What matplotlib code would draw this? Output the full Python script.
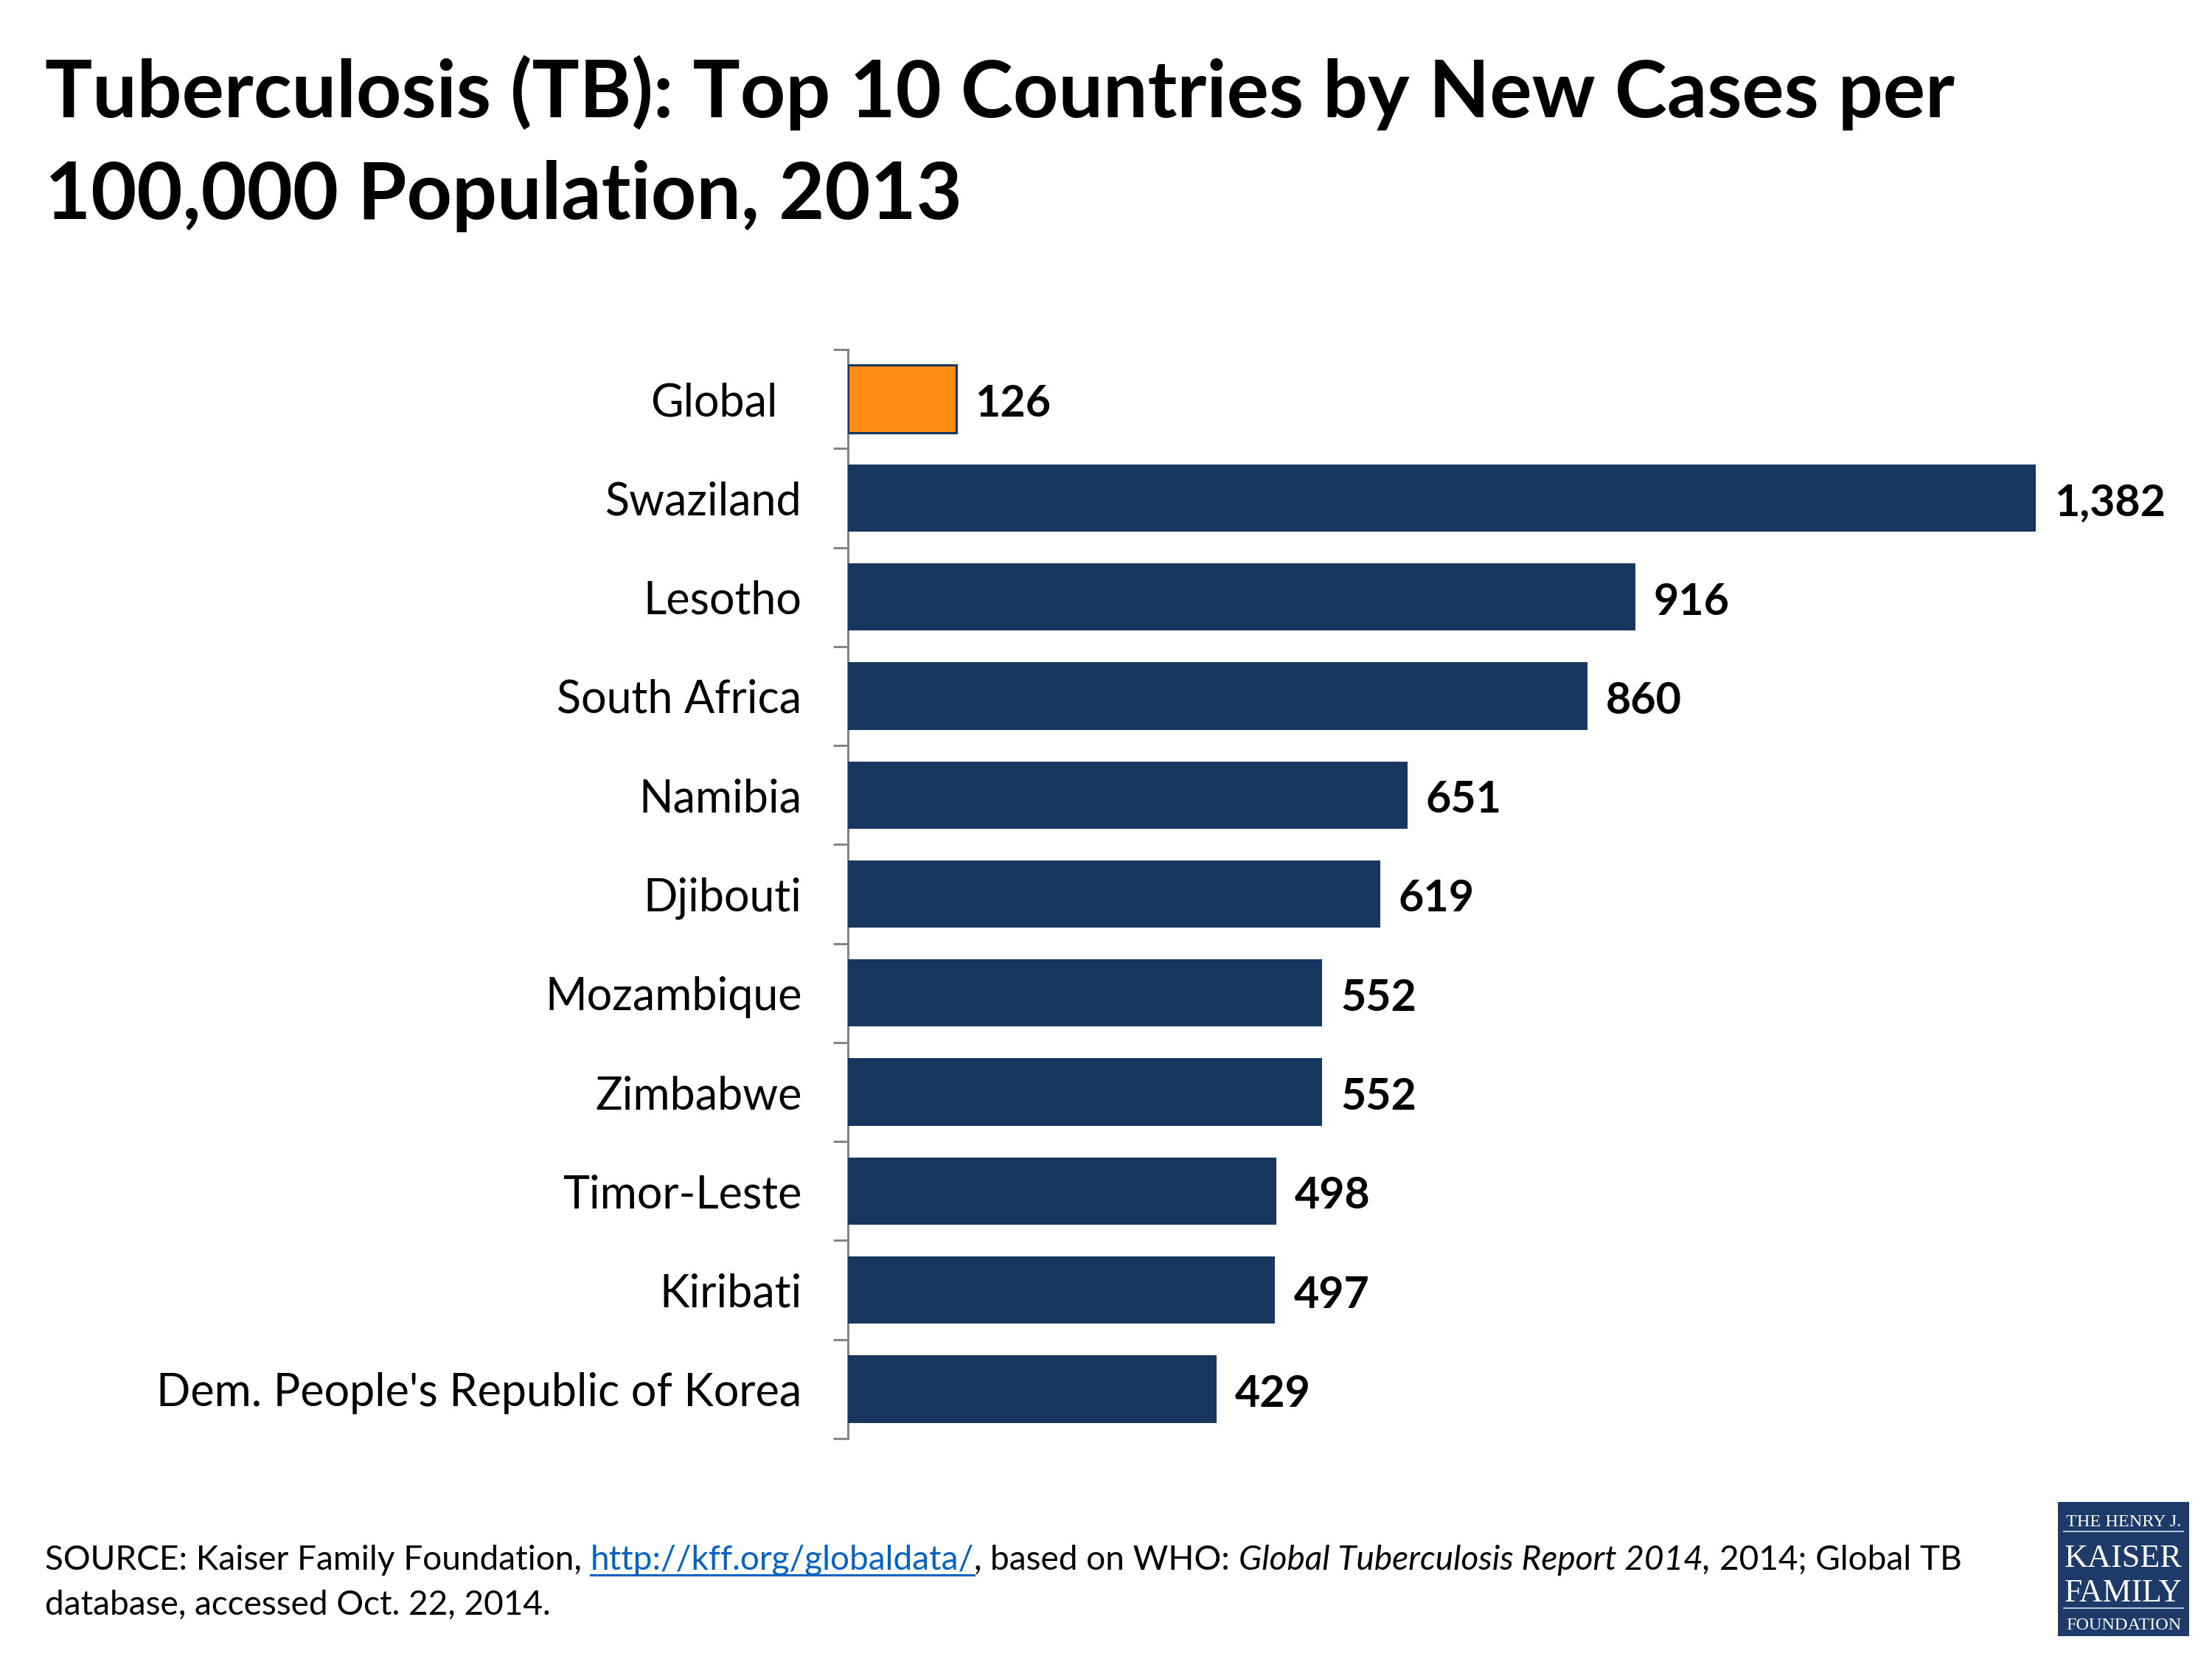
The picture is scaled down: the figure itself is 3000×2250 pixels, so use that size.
import matplotlib
matplotlib.use("Agg")
import matplotlib.pyplot as plt
from matplotlib.ticker import FixedLocator
from matplotlib.transforms import ScaledTranslation
from matplotlib.patches import Rectangle
from matplotlib.lines import Line2D

# ---------------- data ----------------
categories = ["Global", "Swaziland", "Lesotho", "South Africa", "Namibia", "Djibouti",
              "Mozambique", "Zimbabwe", "Timor-Leste", "Kiribati",
              "Dem. People's Republic of Korea"]
values = [126, 1382, 916, 860, 651, 619, 552, 552, 498, 497, 429]
highlight = ["Global"]

title_lines = ["Tuberculosis (TB): Top 10 Countries by New Cases per",
               "100,000 Population, 2013"]

W, H, DPI = 3000, 2250, 100
NAVY = "#17375E"
ORANGE = "#FF8C14"
GRAY = "#868686"
SANS = ["Lato", "DejaVu Sans"]

fig = plt.figure(figsize=(W / DPI, H / DPI), dpi=DPI)
fig.patch.set_facecolor("white")
renderer = fig.canvas.get_renderer()


def text_width(s, **kw):
    t = fig.text(0, 0, s, **kw)
    w = t.get_window_extent(renderer).width
    t.remove()
    return w


def fit_size(s, target_px, base=40, **kw):
    w = text_width(s, fontsize=base, **kw)
    return base * target_px / w


# ---------------- axes ----------------
ax_left, ax_right = 1150, 2898.6
ax_top, ax_bot = 474, 1951
ax = fig.add_axes([ax_left / W, 1 - ax_bot / H, (ax_right - ax_left) / W, (ax_bot - ax_top) / H])

n = len(categories)
ypos = list(range(n))
colors = [ORANGE if c in highlight else NAVY for c in categories]
edges = [NAVY for c in categories]
lws = [2.2 if c in highlight else 0 for c in categories]
ax.barh(ypos, values, height=0.68, color=colors, edgecolor=edges, linewidth=lws, zorder=3)

ax.set_xlim(0, 1500)
ax.set_ylim(n - 0.5, -0.5)
ax.set_xticks([])
for s in ["top", "right", "bottom"]:
    ax.spines[s].set_visible(False)
ax.spines["left"].set_color(GRAY)
ax.spines["left"].set_linewidth(2.2)

label_size = fit_size(categories[-1], 876, family=SANS)
value_size = fit_size("1,382", 151, family=SANS, fontweight="bold")

ax.set_yticks(ypos)
ax.set_yticklabels(categories, fontsize=label_size, family=SANS, color="black")
ax.tick_params(axis="y", which="major", length=0, pad=45)
ax.yaxis.set_minor_locator(FixedLocator([i - 0.5 for i in range(n + 1)]))
ax.tick_params(axis="y", which="minor", length=14.4, width=2.2, color=GRAY)

# "Global" label sits a little further left in the reference
for lab in ax.get_yticklabels():
    if lab.get_text() == "Global":
        lab.set_transform(lab.get_transform() + ScaledTranslation(-0.33, 0, fig.dpi_scale_trans))

for y, v in zip(ypos, values):
    ax.annotate(f"{v:,}", xy=(v, y), xytext=(18, -5), textcoords="offset points",
                ha="left", va="center", fontsize=value_size, fontweight="bold",
                family=SANS, color="black")

# ---------------- title ----------------
title_size = fit_size(title_lines[0], 2589, family=SANS, fontweight="bold")
fig.text(61 / W, 1 - 159 / H, title_lines[0], fontsize=title_size, fontweight="bold",
         family=SANS, ha="left", va="baseline")
fig.text(61 / W, 1 - 297 / H, title_lines[1], fontsize=title_size, fontweight="bold",
         family=SANS, ha="left", va="baseline")

# ---------------- source note ----------------
segments = [
    ("SOURCE: Kaiser Family Foundation,", "normal", False),
    ("http://kff.org/globaldata/", "link", True),
    (",", "normal", False),
    ("based on WHO:", "normal", True),
    ("Global Tuberculosis Report 2014,", "italic", True),
    ("2014; Global TB", "normal", True),
]


def seg_kw(style, size):
    kw = dict(fontsize=size, family=SANS, ha="left", va="baseline", color="black")
    if style == "link":
        kw["color"] = "#0563C1"
    if style == "italic":
        kw["fontstyle"] = "italic"
    return kw


def layout_width(size):
    sw = text_width("a a", fontsize=size, family=SANS) - text_width("aa", fontsize=size, family=SANS)
    tot = 0.0
    for txt, style, sp in segments:
        if sp:
            tot += sw
        tot += text_width(txt, **seg_kw(style, size))
    return tot, sw


src_size = 30.0
for _ in range(3):
    tot, _sw = layout_width(src_size)
    src_size *= 2600 / tot
tot, space_w = layout_width(src_size)

x = 61.0
y1 = H - 2129
for txt, style, sp in segments:
    if sp:
        x += space_w
    t = fig.text(x / W, y1 / H, txt, **seg_kw(style, src_size))
    w = t.get_window_extent(renderer).width
    if style == "link":
        fig.add_artist(Line2D([x / W, (x + w) / W], [(y1 - 7) / H, (y1 - 7) / H],
                              color="#0563C1", lw=2.2, transform=fig.transFigure))
    x += w
fig.text(61 / W, 1 - 2190 / H, "database, accessed Oct. 22, 2014.", fontsize=src_size,
         family=SANS, ha="left", va="baseline", color="black")

# ---------------- logo ----------------
LOGO = "#1E3A68"
lx0, lx1, ly0, ly1 = 2791, 2969, 2037, 2219
fig.add_artist(Rectangle((lx0 / W, 1 - ly1 / H), (lx1 - lx0) / W, (ly1 - ly0) / H,
                         transform=fig.transFigure, facecolor=LOGO, edgecolor="none"))
SERIF = ["Liberation Serif", "DejaVu Serif"]
cx = (lx0 + lx1) / 2 / W
for txt, base_y, width in [("THE HENRY J.", 2070, 156), ("KAISER", 2125, 160),
                           ("FAMILY", 2172, 160), ("FOUNDATION", 2210, 156)]:
    sz = fit_size(txt, width, family=SERIF)
    fig.text(cx, 1 - base_y / H, txt, fontsize=sz, family=SERIF, color="white",
             ha="center", va="baseline")
for ly in [2077, 2181]:
    fig.add_artist(Line2D([2799 / W, 2961 / W], [1 - ly / H, 1 - ly / H], color="#C9D3E3",
                          lw=1.3, transform=fig.transFigure))

fig.savefig("out.png", dpi=DPI, facecolor="white")
